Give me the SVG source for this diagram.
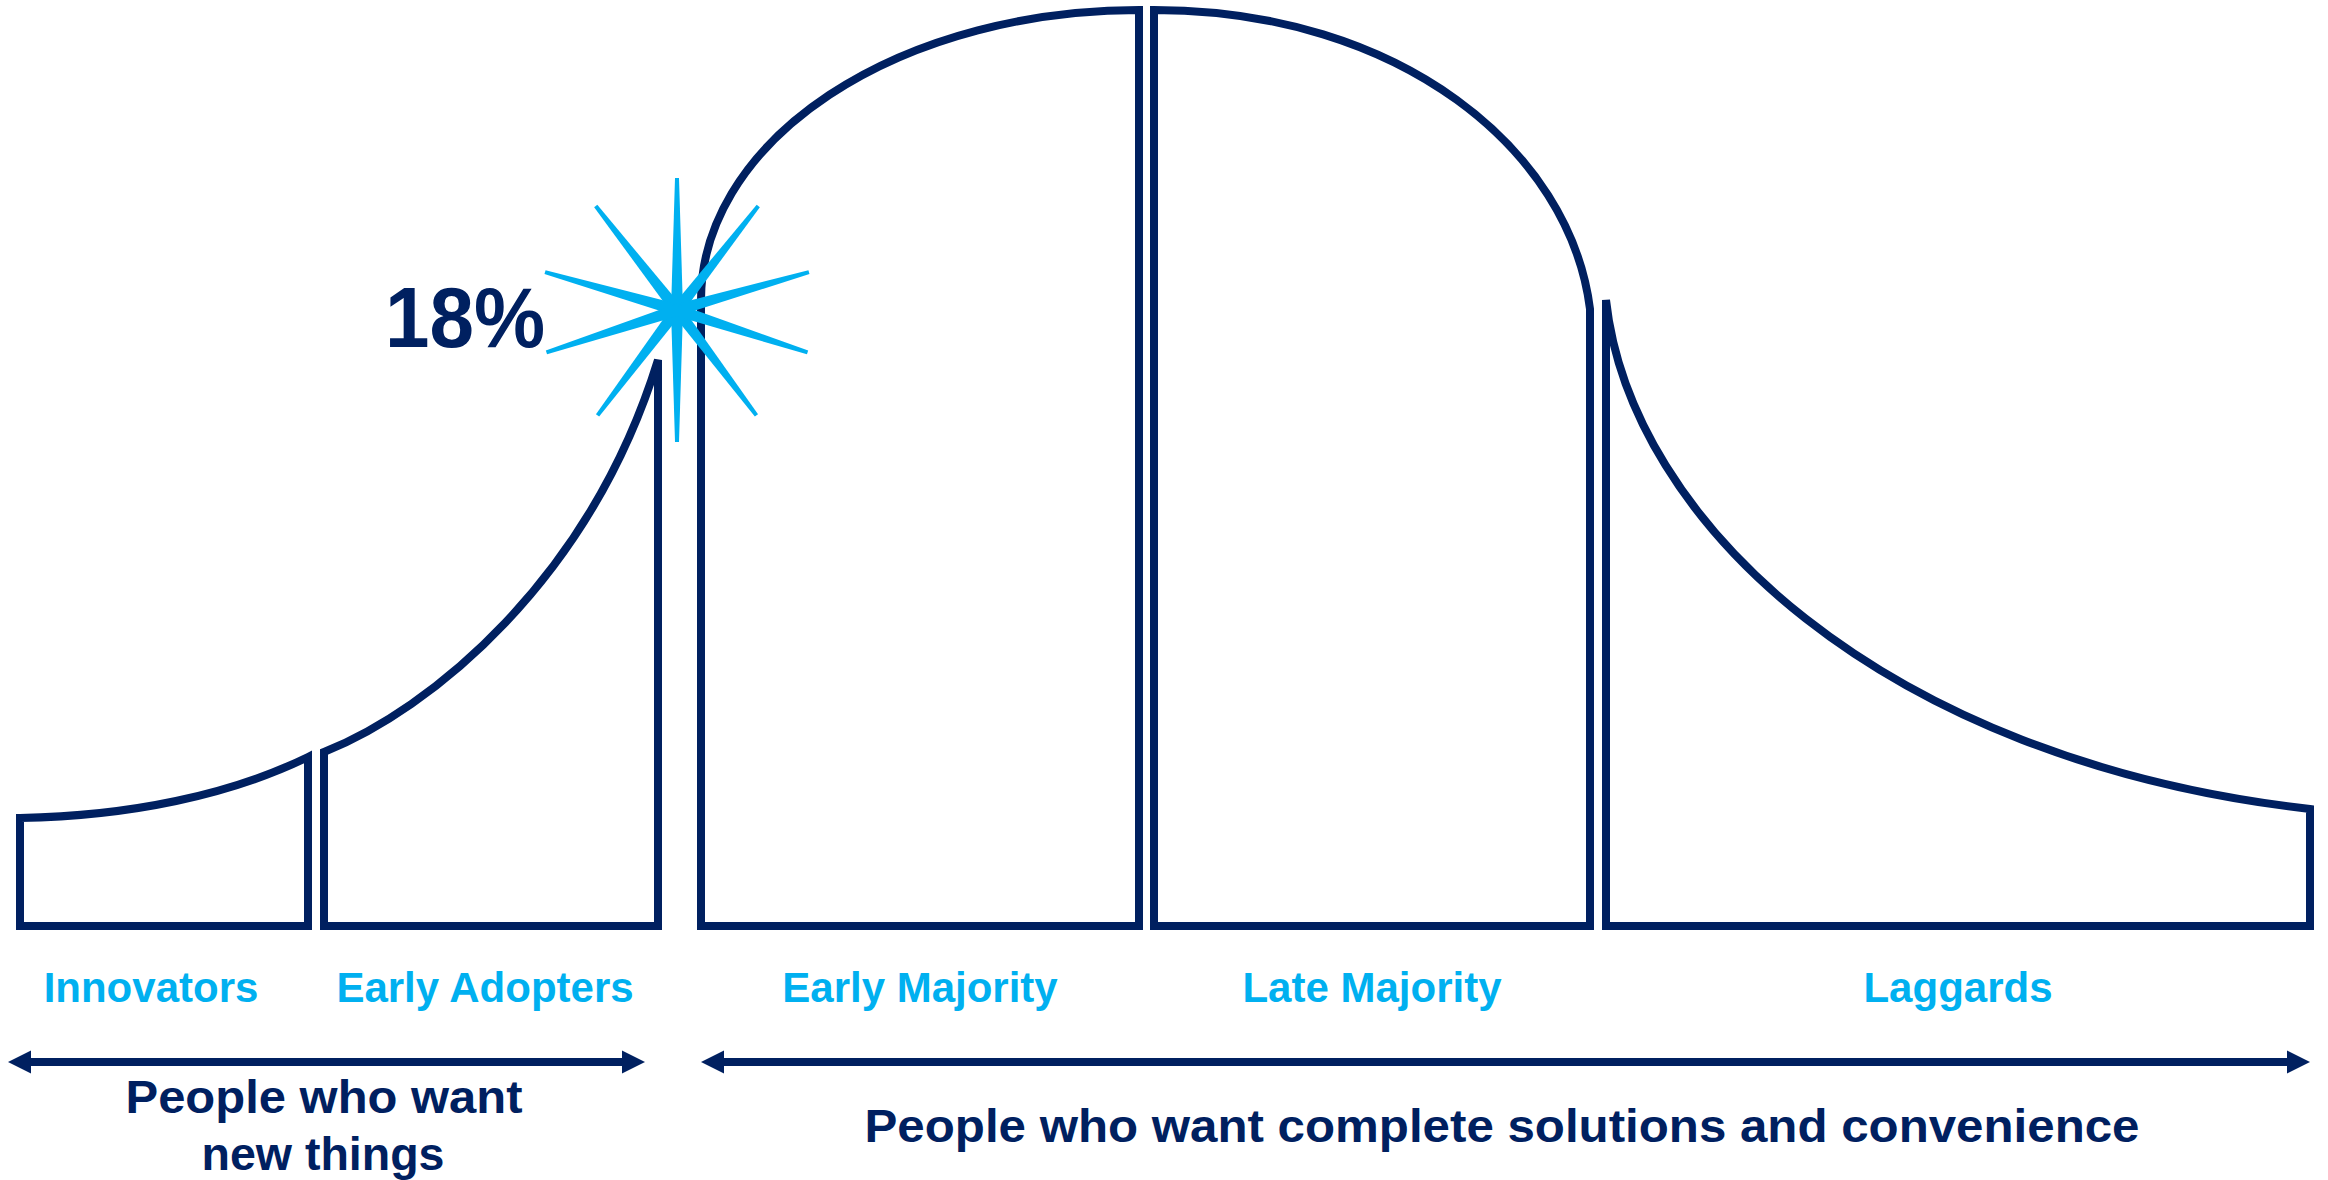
<svg xmlns="http://www.w3.org/2000/svg" width="2328" height="1180" viewBox="0 0 2328 1180">
<style>
.seg{fill:#fff;stroke:#002060;stroke-width:8;stroke-linejoin:miter;stroke-miterlimit:4}
.lbl{font-family:"Liberation Sans",Arial,sans-serif;font-weight:bold;font-size:42px;fill:#00B0F0;text-anchor:middle}
.cap{font-family:"Liberation Sans",Arial,sans-serif;font-weight:bold;font-size:46px;fill:#002060;text-anchor:middle}
.shaft{stroke:#002060;stroke-width:8;fill:none}
.head{fill:#002060}
.ray{fill:#00B0F0}
</style>
<defs>
<polygon id="ray" class="ray" points="-6,0 -2,-132 2,-132 6,0"/>
</defs>
<rect width="2328" height="1180" fill="#fff"/>
<g id="innovators">
<path class="seg" d="M20,926 L20,818 C130,816 230,795 308,757 L308,926 Z"/>
<text class="lbl" x="151" y="1002">Innovators</text>
</g>
<g id="early-adopters">
<path class="seg" d="M324,926 L324,752 C430,710 590,580 658,360 L658,926 Z"/>
<text class="lbl" x="485" y="1002">Early Adopters</text>
</g>
<g id="early-majority">
<path class="seg" d="M701,926 L701,300 A438,290 0 0 1 1139,10 L1139,926 Z"/>
<text class="lbl" x="920" y="1002">Early Majority</text>
</g>
<g id="late-majority">
<path class="seg" d="M1154,926 L1154,10 C1400,10 1570,150 1590,309 L1590,926 Z"/>
<text class="lbl" x="1372" y="1002">Late Majority</text>
</g>
<g id="laggards">
<path class="seg" d="M1606,926 L1606,300 C1630,520 1880,760 2310,809 L2310,926 Z"/>
<text class="lbl" x="1958" y="1002">Laggards</text>
</g>
<g id="burst" transform="translate(677,310)">
<use href="#ray"/>
<use href="#ray" transform="rotate(180)"/>
<use href="#ray" transform="rotate(38)"/>
<use href="#ray" transform="rotate(-38)"/>
<use href="#ray" transform="rotate(143)"/>
<use href="#ray" transform="rotate(-143)"/>
<use href="#ray" transform="rotate(74) scale(1,1.04)"/>
<use href="#ray" transform="rotate(-74) scale(1,1.04)"/>
<use href="#ray" transform="rotate(108) scale(1,1.04)"/>
<use href="#ray" transform="rotate(-108) scale(1,1.04)"/>
</g>
<g id="percent">
<text x="385" y="347" font-family="Liberation Sans, Arial, sans-serif" font-weight="bold" font-size="86" fill="#002060" textLength="160" lengthAdjust="spacingAndGlyphs">18%</text>
</g>
<g id="connectors">
<line class="shaft" x1="26" y1="1062" x2="627" y2="1062"/>
<polygon class="head" points="8,1062 31,1050.5 31,1073.5"/>
<polygon class="head" points="645,1062 622,1050.5 622,1073.5"/>
<line class="shaft" x1="719" y1="1062" x2="2292" y2="1062"/>
<polygon class="head" points="701,1062 724,1050.5 724,1073.5"/>
<polygon class="head" points="2310,1062 2287,1050.5 2287,1073.5"/>
</g>
<g id="caption-left">
<text class="cap" x="324" y="1113" textLength="397" lengthAdjust="spacingAndGlyphs">People who want</text>
<text class="cap" x="323" y="1170" textLength="243" lengthAdjust="spacingAndGlyphs">new things</text>
</g>
<g id="caption-right">
<text class="cap" x="1502" y="1142" textLength="1275" lengthAdjust="spacingAndGlyphs">People who want complete solutions and convenience</text>
</g>
</svg>
